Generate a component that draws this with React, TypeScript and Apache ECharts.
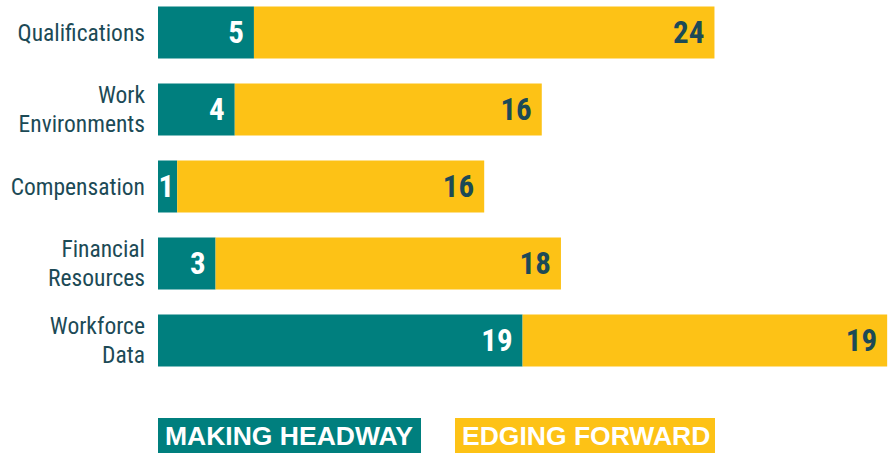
import React, { useEffect, useRef } from "react";
import * as echarts from "echarts";

const categories = ["Qualifications", "Work\nEnvironments", "Compensation", "Financial\nResources", "Workforce\nData"];
const makingHeadway = [5, 4, 1, 3, 19];
const edgingForward = [24, 16, 16, 18, 19];
const seriesNames = ["MAKING HEADWAY", "EDGING FORWARD"];

const TEAL = "#007f7e";
const YELLOW = "#fdc216";
const DARK = "#1c4a56";
const COND = "'Roboto Condensed', 'Liberation Sans Narrow', 'DejaVu Sans Condensed', 'Arial Narrow', Roboto, sans-serif";
const SHIFT = 6; // chart div is moved up by this many pixels

export default function App() {
  const ref = useRef<HTMLDivElement>(null);
  useEffect(() => {
    if (!ref.current) return;
    const chart = echarts.init(ref.current, undefined, { renderer: "svg" });
    const label = (color: string) => ({
      show: true,
      position: "insideRight" as const,
      distance: 10,
      color,
      fontFamily: COND,
      fontWeight: "bold" as const,
      fontSize: 31,
    });
    const withNarrowLabels = (vals: number[]) =>
      vals.map((v) => (v < 2 ? { value: v, label: { distance: 3 } } : v));
    chart.setOption({
      animation: false,
      grid: { left: 158, right: 0, top: 0, height: 385 },
      xAxis: { type: "value", min: 0, max: 38.2, show: false },
      yAxis: {
        type: "category",
        data: categories,
        inverse: true,
        axisLine: { show: false },
        axisTick: { show: false },
        axisLabel: {
          color: DARK,
          fontFamily: COND,
          fontSize: 23.5,
          lineHeight: 28.5,
          align: "right",
          margin: 13,
        },
      },
      series: [
        {
          name: seriesNames[0],
          type: "bar",
          stack: "a",
          data: withNarrowLabels(makingHeadway),
          barWidth: 52,
          itemStyle: { color: TEAL },
          label: label("#ffffff"),
        },
        {
          name: seriesNames[1],
          type: "bar",
          stack: "a",
          data: edgingForward,
          barWidth: 52,
          itemStyle: { color: YELLOW },
          label: label(DARK),
        },
      ],
      graphic: [
        { type: "rect", left: 158, top: 418 + SHIFT, shape: { width: 263, height: 35 }, style: { fill: TEAL } },
        {
          type: "text",
          x: 165,
          y: 436 + SHIFT,
          style: {
            text: seriesNames[0],
            fill: "#fff",
            font: "bold 26.5px 'Liberation Sans', Arial, sans-serif",
            textVerticalAlign: "middle",
          },
        },
        { type: "rect", left: 455, top: 418 + SHIFT, shape: { width: 260, height: 35 }, style: { fill: YELLOW } },
        {
          type: "text",
          x: 462,
          y: 436 + SHIFT,
          style: {
            text: seriesNames[1],
            fill: "#fff",
            font: "bold 26.5px 'Liberation Sans', Arial, sans-serif",
            textVerticalAlign: "middle",
          },
        },
      ],
    });
    return () => chart.dispose();
  }, []);
  return (
    <div
      ref={ref}
      style={{ width: 891, height: 454 + SHIFT, position: "absolute", left: 0, top: -SHIFT }}
    />
  );
}
